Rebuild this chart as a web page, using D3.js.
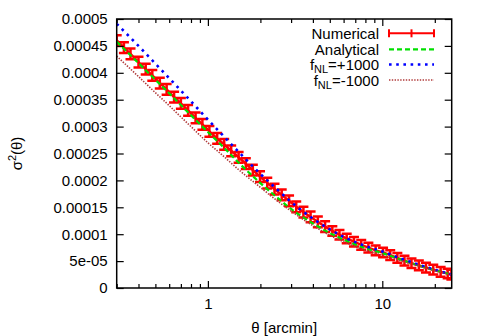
<!DOCTYPE html>
<html>
<head>
<meta charset="utf-8">
<script src="https://cdn.jsdelivr.net/npm/d3@7"></script>
<style>
  body { margin: 0; background: #fff; }
  svg { font-family: "Liberation Sans", Arial, Helvetica, sans-serif; }
  .axis text { font-size: 15px; fill: #000; }
  .axis line { stroke: #000; stroke-width: 1.2; }
  .axis path { display: none; }
</style>
</head>
<body>
<div id="vis"></div>
<script>
// plot frame
const FRAME_WIDTH = 479;
const FRAME_HEIGHT = 336;
const PLOT = {left: 116.7, right: 451.7, top: 19, bottom: 288};

// data (sigma^2 in units of 1e-4)
const numTheta = [0.30, 0.33, 0.36, 0.40, 0.44, 0.48, 0.53, 0.58, 0.64, 0.70,
                  0.77, 0.85, 0.93, 1.02, 1.13, 1.24, 1.36, 1.50, 1.65, 1.81,
                  1.99, 2.19, 2.41, 2.65, 2.92, 3.21, 3.53, 3.88, 4.27, 4.70,
                  5.17, 5.68, 6.25, 6.88, 7.57, 8.32, 9.16, 10.1, 11.1, 12.2,
                  13.4, 14.7, 16.2, 17.8, 19.6, 21.6, 23.7, 24.9];
const numValue = [4.60, 4.47, 4.35, 4.20, 4.07, 3.95, 3.81, 3.69, 3.55, 3.43,
                  3.30, 3.16, 3.04, 2.91, 2.78, 2.67, 2.55, 2.43, 2.31, 2.19,
                  2.07, 1.95, 1.84, 1.73, 1.62, 1.51, 1.41, 1.32, 1.23, 1.14,
                  1.06, 0.99, 0.92, 0.86, 0.80, 0.75, 0.70, 0.66, 0.61, 0.56,
                  0.51, 0.46, 0.42, 0.38, 0.34, 0.30, 0.27, 0.25];
const numError = [0.10, 0.10, 0.10, 0.10, 0.10, 0.10, 0.10, 0.10, 0.10, 0.10,
                  0.10, 0.10, 0.10, 0.10, 0.10, 0.10, 0.10, 0.10, 0.10, 0.10,
                  0.10, 0.10, 0.10, 0.10, 0.10, 0.10, 0.10, 0.10, 0.10, 0.10,
                  0.09, 0.09, 0.09, 0.09, 0.09, 0.09, 0.09, 0.09, 0.09, 0.09,
                  0.09, 0.09, 0.09, 0.09, 0.09, 0.09, 0.09, 0.09];

const lineTheta = [0.3, 0.4, 0.5, 0.6, 0.7, 0.8, 1.0, 1.2, 1.5, 2.0, 2.5,
                   3.0, 4.0, 5.0, 6.0, 8.0, 10, 12, 15, 20, 25];
const analytical = [4.58, 4.18, 3.87, 3.62, 3.40, 3.21, 2.90, 2.65, 2.33, 1.95, 1.68,
                    1.47, 1.20, 1.02, 0.90, 0.74, 0.65, 0.56, 0.45, 0.33, 0.25];
const fnlPlus = [4.91, 4.50, 4.17, 3.90, 3.67, 3.47, 3.13, 2.86, 2.53, 2.12, 1.83,
                 1.60, 1.29, 1.09, 0.95, 0.78, 0.68, 0.58, 0.47, 0.34, 0.25];
const fnlMinus = [4.31, 3.93, 3.63, 3.39, 3.18, 3.00, 2.70, 2.48, 2.20, 1.87, 1.62,
                  1.43, 1.16, 0.98, 0.86, 0.70, 0.61, 0.53, 0.44, 0.32, 0.25];

const xMajor = [1, 10];
const xMinor = [0.3, 0.4, 0.5, 0.6, 0.7, 0.8, 0.9, 2, 3, 4, 5, 6, 7, 8, 9, 20];
const yTicks = [0, 0.5, 1, 1.5, 2, 2.5, 3, 3.5, 4, 4.5, 5];
const yLabels = ["0", "5e-05", "0.0001", "0.00015", "0.0002", "0.00025",
                 "0.0003", "0.00035", "0.0004", "0.00045", "0.0005"];

const svg = d3.select("#vis").append("svg")
    .attr("width", FRAME_WIDTH)
    .attr("height", FRAME_HEIGHT);

const x = d3.scaleLog().domain([0.3, 25]).range([PLOT.left, PLOT.right]);
const y = d3.scaleLinear().domain([0, 5]).range([PLOT.bottom, PLOT.top]);

svg.append("clipPath").attr("id", "clip")
  .append("rect")
    .attr("x", PLOT.left).attr("y", PLOT.top)
    .attr("width", PLOT.right - PLOT.left)
    .attr("height", PLOT.bottom - PLOT.top);

const plot = svg.append("g").attr("clip-path", "url(#clip)");

// numerical: line + error bars
const numData = numTheta.map((t, i) => ({t: t, v: numValue[i], e: numError[i]}));
plot.append("path")
    .datum(numData)
    .attr("d", d3.line().x(d => x(d.t)).y(d => y(d.v)))
    .attr("fill", "none")
    .attr("stroke", "#ff0000")
    .attr("stroke-width", 2.5);

const bars = plot.selectAll(".err").data(numData).enter().append("g")
    .attr("stroke", "#ff0000").attr("stroke-width", 2.5);
bars.append("line")
    .attr("x1", d => x(d.t)).attr("x2", d => x(d.t))
    .attr("y1", d => y(d.v - d.e)).attr("y2", d => y(d.v + d.e));
bars.append("line")
    .attr("x1", d => x(d.t) - 5).attr("x2", d => x(d.t) + 5)
    .attr("y1", d => y(d.v - d.e)).attr("y2", d => y(d.v - d.e));
bars.append("line")
    .attr("x1", d => x(d.t) - 5).attr("x2", d => x(d.t) + 5)
    .attr("y1", d => y(d.v + d.e)).attr("y2", d => y(d.v + d.e));

const curve = d3.line()
    .x((d, i) => x(lineTheta[i]))
    .y(d => y(d))
    .curve(d3.curveMonotoneX);

plot.append("path").datum(analytical).attr("d", curve)
    .attr("fill", "none").attr("stroke", "#00e000")
    .attr("stroke-width", 2.2).attr("stroke-dasharray", "5,3");
plot.append("path").datum(fnlPlus).attr("d", curve)
    .attr("fill", "none").attr("stroke", "#0000ff")
    .attr("stroke-width", 2.6).attr("stroke-dasharray", "2.6,4.6");
plot.append("path").datum(fnlMinus).attr("d", curve)
    .attr("fill", "none").attr("stroke", "#b03a3a")
    .attr("stroke-width", 1.6).attr("stroke-dasharray", "1.4,1.4");

// axes
svg.append("g").attr("class", "axis")
    .attr("transform", "translate(0," + PLOT.bottom + ")")
    .call(d3.axisBottom(x).tickValues(xMajor).tickFormat(d3.format("d"))
          .tickSize(-7).tickPadding(10));
svg.append("g").attr("class", "axis")
    .attr("transform", "translate(0," + PLOT.bottom + ")")
    .call(d3.axisBottom(x).tickValues(xMinor).tickFormat("").tickSize(-4));
svg.append("g").attr("class", "axis")
    .attr("transform", "translate(0," + PLOT.top + ")")
    .call(d3.axisTop(x).tickValues(xMajor).tickFormat("").tickSize(-7));
svg.append("g").attr("class", "axis")
    .attr("transform", "translate(0," + PLOT.top + ")")
    .call(d3.axisTop(x).tickValues(xMinor).tickFormat("").tickSize(-4));
svg.append("g").attr("class", "axis")
    .attr("transform", "translate(" + PLOT.left + ",0)")
    .call(d3.axisLeft(y).tickValues(yTicks).tickFormat((d, i) => yLabels[i])
          .tickSize(-7).tickPadding(9));
svg.append("g").attr("class", "axis")
    .attr("transform", "translate(" + PLOT.right + ",0)")
    .call(d3.axisRight(y).tickValues(yTicks).tickFormat("").tickSize(-7));

svg.append("rect")
    .attr("x", PLOT.left).attr("y", PLOT.top)
    .attr("width", PLOT.right - PLOT.left)
    .attr("height", PLOT.bottom - PLOT.top)
    .attr("fill", "none").attr("stroke", "#000").attr("stroke-width", 1.5);

// axis titles
svg.append("text")
    .attr("x", (PLOT.left + PLOT.right) / 2).attr("y", 333)
    .attr("text-anchor", "middle").attr("font-size", 15)
    .text("θ [arcmin]");

const ylab = svg.append("text")
    .attr("transform", "translate(22," + (PLOT.top + PLOT.bottom) / 2 + ") rotate(-90)")
    .attr("text-anchor", "middle").attr("font-size", 15);
ylab.append("tspan").text("σ");
ylab.append("tspan").attr("font-size", 11).attr("dy", -6).text("2");
ylab.append("tspan").attr("dy", 6).text("(θ)");

// legend
const legendNames = ["Numerical", "Analytical", "+1000", "-1000"];
const legendY = [33.3, 49.3, 64.5, 80];
const LX0 = 389, LX1 = 434, LTEXT = 379;

legendNames.forEach((name, i) => {
  const t = svg.append("text")
      .attr("x", LTEXT).attr("y", legendY[i] + 5.5)
      .attr("text-anchor", "end").attr("font-size", 15);
  if (i < 2) {
    t.text(name);
  } else {
    t.append("tspan").text("f");
    t.append("tspan").attr("font-size", 11).attr("dy", 3).text("NL");
    t.append("tspan").attr("dy", -3).text("=" + name);
  }
});

svg.append("line").attr("x1", LX0).attr("x2", LX1)
    .attr("y1", legendY[0]).attr("y2", legendY[0])
    .attr("stroke", "#ff0000").attr("stroke-width", 2);
[LX0, (LX0 + LX1) / 2, LX1].forEach(px => {
  svg.append("line").attr("x1", px).attr("x2", px)
      .attr("y1", legendY[0] - 4).attr("y2", legendY[0] + 4)
      .attr("stroke", "#ff0000").attr("stroke-width", 2);
});
svg.append("line").attr("x1", LX0).attr("x2", LX1)
    .attr("y1", legendY[1]).attr("y2", legendY[1])
    .attr("stroke", "#00e000").attr("stroke-width", 2.2).attr("stroke-dasharray", "5,3");
svg.append("line").attr("x1", LX0).attr("x2", LX1)
    .attr("y1", legendY[2]).attr("y2", legendY[2])
    .attr("stroke", "#0000ff").attr("stroke-width", 2.6).attr("stroke-dasharray", "2.6,4.6");
svg.append("line").attr("x1", LX0).attr("x2", LX1)
    .attr("y1", legendY[3]).attr("y2", legendY[3])
    .attr("stroke", "#b03a3a").attr("stroke-width", 1.6).attr("stroke-dasharray", "1.4,1.4");
</script>
</body>
</html>
